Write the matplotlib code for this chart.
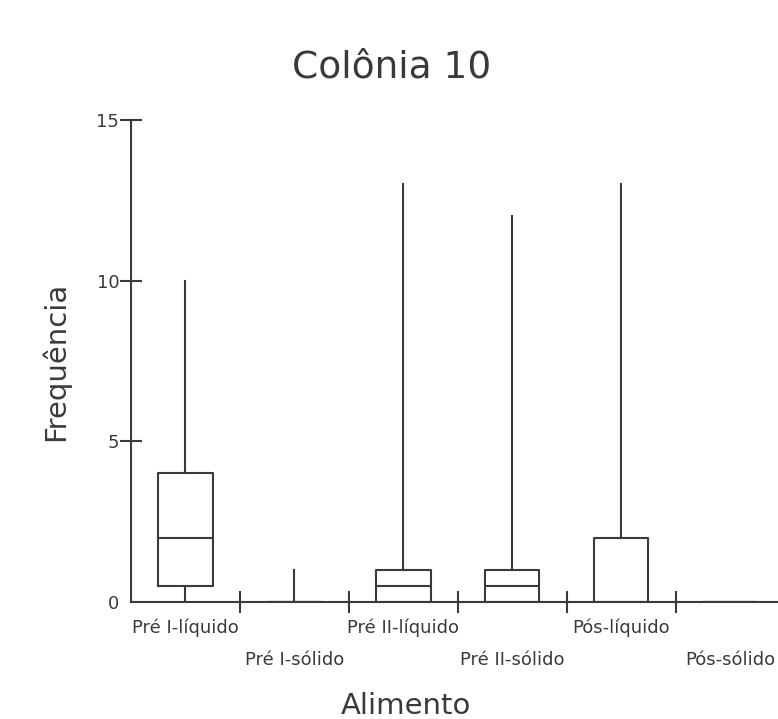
import matplotlib
matplotlib.use("Agg")
import matplotlib.pyplot as plt

# dados (Colonia 10)
alimentos = ["Pré I-líquido", "Pré I-sólido", "Pré II-líquido",
             "Pré II-sólido", "Pós-líquido", "Pós-sólido"]
minimo = [0, 0, 0, 0, 0, 0]
q1 = [0.5, 0, 0, 0, 0, 0]
mediana = [2, 0, 0.5, 0.5, 0, 0]
q3 = [4, 0, 1, 1, 2, 0]
maximo = [10, 1, 13, 12, 13, 0]
yticks = [0, 5, 10, 15]

cor = "#3a3a3a"
plt.rcParams["font.family"] = ["DejaVu Sans"]

fig = plt.figure(figsize=(7.78, 7.19), dpi=100)
ax = fig.add_axes([131 / 778, 117 / 719, 647 / 778, 482 / 719])

stats = []
for i in range(len(alimentos)):
    stats.append({"label": alimentos[i], "whislo": minimo[i], "q1": q1[i],
                  "med": mediana[i], "q3": q3[i], "whishi": maximo[i], "fliers": []})

props = dict(color=cor, linewidth=1.5)
ax.bxp(stats, positions=range(1, 7), widths=0.5, showcaps=False, showfliers=False,
       boxprops=props, whiskerprops=props, medianprops=props, manage_ticks=False)

ax.set_xlim(0.5, 6.44)
ax.set_ylim(0, 15)
for s in ["top", "right"]:
    ax.spines[s].set_visible(False)
ax.spines["left"].set_bounds(0, 15)
for s in ["left", "bottom"]:
    ax.spines[s].set_color(cor)
    ax.spines[s].set_linewidth(1.5)

ax.set_yticks(yticks)
ax.set_yticklabels([str(v) for v in yticks])
ax.tick_params(axis="y", direction="inout", length=16, width=1.5, color=cor,
               labelcolor=cor, labelsize=13, pad=0.5)
ax.yaxis.get_major_ticks()[0].tick1line.set_visible(False)

ax.set_xticks([1.5, 2.5, 3.5, 4.5, 5.5])
ax.set_xticklabels([])
ax.tick_params(axis="x", direction="inout", length=16, width=1.5, color=cor)

# rotulos alternados em duas linhas
for i, nome in enumerate(alimentos):
    desl = -22.5 if i % 2 == 0 else -45.5
    ax.annotate(nome, xy=(i + 1, 0), xycoords="data", xytext=(0, desl),
                textcoords="offset points", ha="center", va="baseline",
                fontsize=13, color=cor)

fig.text(392 / 778, 642 / 719, "Colônia 10", ha="center", va="baseline",
         fontsize=27, color=cor)
fig.text(55 / 778, 357.5 / 719, "Frequência", ha="center", va="center",
         rotation=90, fontsize=21, color=cor)
fig.text(406 / 778, 5 / 719, "Alimento", ha="center", va="baseline",
         fontsize=21, color=cor)

fig.savefig("out.png", dpi=100)
